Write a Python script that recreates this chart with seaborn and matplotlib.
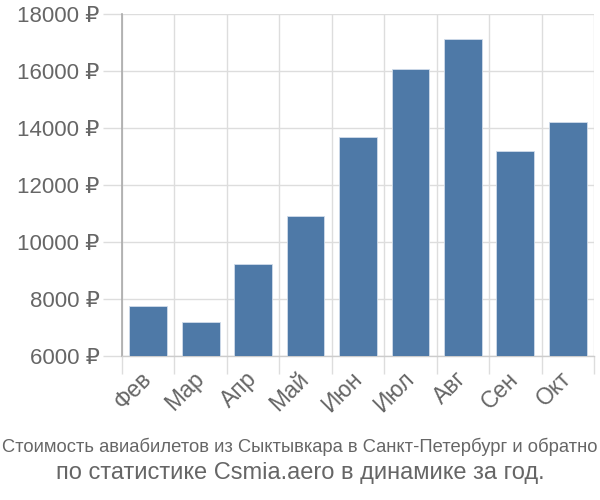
import matplotlib
matplotlib.use("Agg")
import matplotlib.pyplot as plt
import seaborn as sns
import pandas as pd
from matplotlib.ticker import FixedLocator

months = ["Фев", "Мар", "Апр", "Май", "Июн", "Июл", "Авг", "Сен", "Окт"]
prices = [7750, 7200, 9240, 10910, 13670, 16070, 17110, 13200, 14210]
yticks = [6000, 8000, 10000, 12000, 14000, 16000, 18000]
ytick_labels = [f"{v} ₽" for v in yticks]
title1 = "Стоимость авиабилетов из Сыктывкара в Санкт-Петербург и обратно"
title2 = "по статистике Csmia.aero в динамике за год."

sns.set_theme(style="white")
plt.rcParams['font.family'] = ['Liberation Sans', 'DejaVu Sans']

df = pd.DataFrame({"month": months, "price": prices})

fig = plt.figure(figsize=(6, 5), dpi=100)
ax = fig.add_axes([122/600, 1-356/500, (594-122)/600, (356-14)/500])

sns.barplot(data=df, x="month", y="price", color="#4E79A7", saturation=1,
            width=0.72, edgecolor="#d0dcea", linewidth=0.6, ax=ax, zorder=3)

ax.set_ylim(6000, 18000)
ax.set_xlim(-0.5, len(months) - 0.5)
ax.set_yticks(yticks)
ax.set_yticklabels(ytick_labels)
ax.set_xlabel("")
ax.set_ylabel("")

ax.xaxis.set_minor_locator(FixedLocator([i + 0.5 for i in range(-1, len(months))]))
ax.grid(True, which="minor", axis="x", color="#dddddd", linewidth=1, zorder=0)
ax.grid(True, which="major", axis="y", color="#dddddd", linewidth=1, zorder=0)
ax.set_axisbelow(True)

ax.tick_params(axis="y", which="major", length=14, color="#dddddd", width=1,
               labelsize=16, labelcolor="#666666", pad=2, left=True)
ax.tick_params(axis="x", which="major", length=0, labelsize=16.5,
               labelcolor="#666666", pad=14)
ax.tick_params(axis="x", which="minor", length=13, color="#dddddd", width=1, bottom=True)

for lbl in ax.get_xticklabels():
    lbl.set_rotation(45)
    lbl.set_ha("right")
    lbl.set_va("center")
    lbl.set_rotation_mode("anchor")

for s in ["top", "right"]:
    ax.spines[s].set_visible(False)
ax.spines["bottom"].set_color("#cccccc")
ax.spines["bottom"].set_linewidth(1)
ax.spines["left"].set_color("#aaaaaa")
ax.spines["left"].set_linewidth(1.2)

fig.text(0.5, 1-447/500, title1, ha="center", va="center", fontsize=13.2,
         color="#666666")
fig.text(0.5, 1-473/500, title2, ha="center", va="center", fontsize=17,
         color="#666666")

fig.savefig("out.png", dpi=100)
